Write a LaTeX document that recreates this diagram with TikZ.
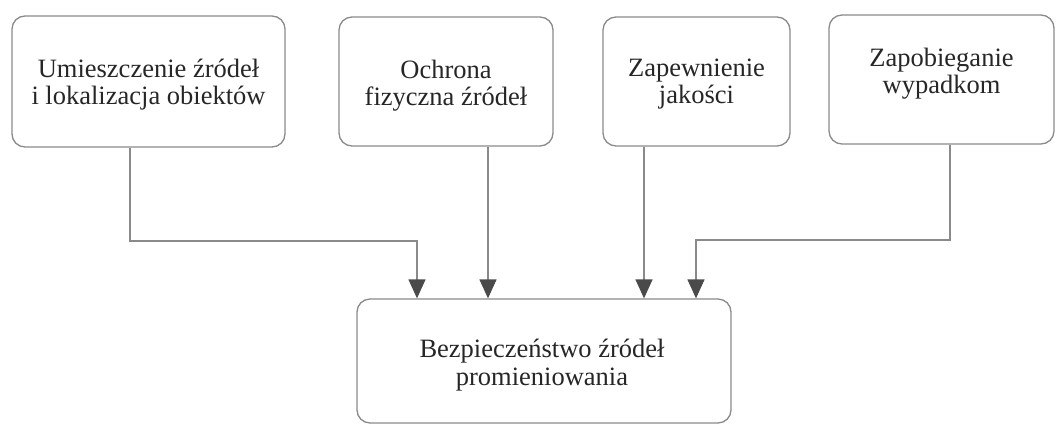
\documentclass[tikz,border=0pt]{standalone}
\usepackage{fontspec}
\setmainfont{Liberation Serif}
\newfontfamily\tnr{Liberation Serif}
\usetikzlibrary{arrows.meta,calc}
\definecolor{edge}{HTML}{8A8A8A}
\definecolor{tip}{HTML}{4A4A4A}
\begin{document}
\begin{tikzpicture}[x=1pt,y=1pt,
  box/.style={draw=edge, line width=1.3pt, rounded corners=13pt, inner sep=0pt},
  txt/.style={align=center, inner sep=0pt, font=\tnr\fontsize{26.5}{27}\selectfont, text=black!85},
  conn/.style={draw=edge, line width=1.3pt,
    -{Triangle[width=17pt,length=19pt,fill=tip,color=tip]}}]
\useasboundingbox (0,0) rectangle (1060,-424);
\node[box, minimum width=273pt, minimum height=131pt] (b1) at (148.5,-81.5) {};
\node[box, minimum width=214pt, minimum height=129pt] (b2) at (446,-81.5) {};
\node[box, minimum width=187pt, minimum height=129pt] (b3) at (696.5,-81.5) {};
\node[box, minimum width=225pt, minimum height=129pt] (b4) at (941.5,-79.5) {};
\node[box, minimum width=374pt, minimum height=124pt] (bot) at (544,-361) {};
\node[txt] (t1) at (148.5,-85) {Umieszczenie źródeł\\i lokalizacja obiektów};
\node[txt] (t2) at (446,-86) {Ochrona\\fizyczna źródeł};
\node[txt] (t3) at (696.5,-84) {Zapewnienie\\jakości};
\node[txt] (t4) at (941.5,-74) {Zapobieganie\\wypadkom};
\node[txt, font=\tnr\fontsize{26.5}{28}\selectfont] (t5) at (542,-365) {Bezpieczeństwo źródeł\\promieniowania};
\coordinate (k1) at (417,-241);
\coordinate (k4) at (696,-240);
\draw[conn] ([xshift=-18.5pt]b1.south) |- (k1) -- (k1 |- bot.north);
\draw[conn] ([xshift=42pt]b2.south) -- ([xshift=42pt]b2.south |- bot.north);
\draw[conn] ([xshift=-52.5pt]b3.south) -- ([xshift=-52.5pt]b3.south |- bot.north);
\draw[conn] ([xshift=8.5pt]b4.south) |- (k4) -- (k4 |- bot.north);
\end{tikzpicture}
\end{document}
